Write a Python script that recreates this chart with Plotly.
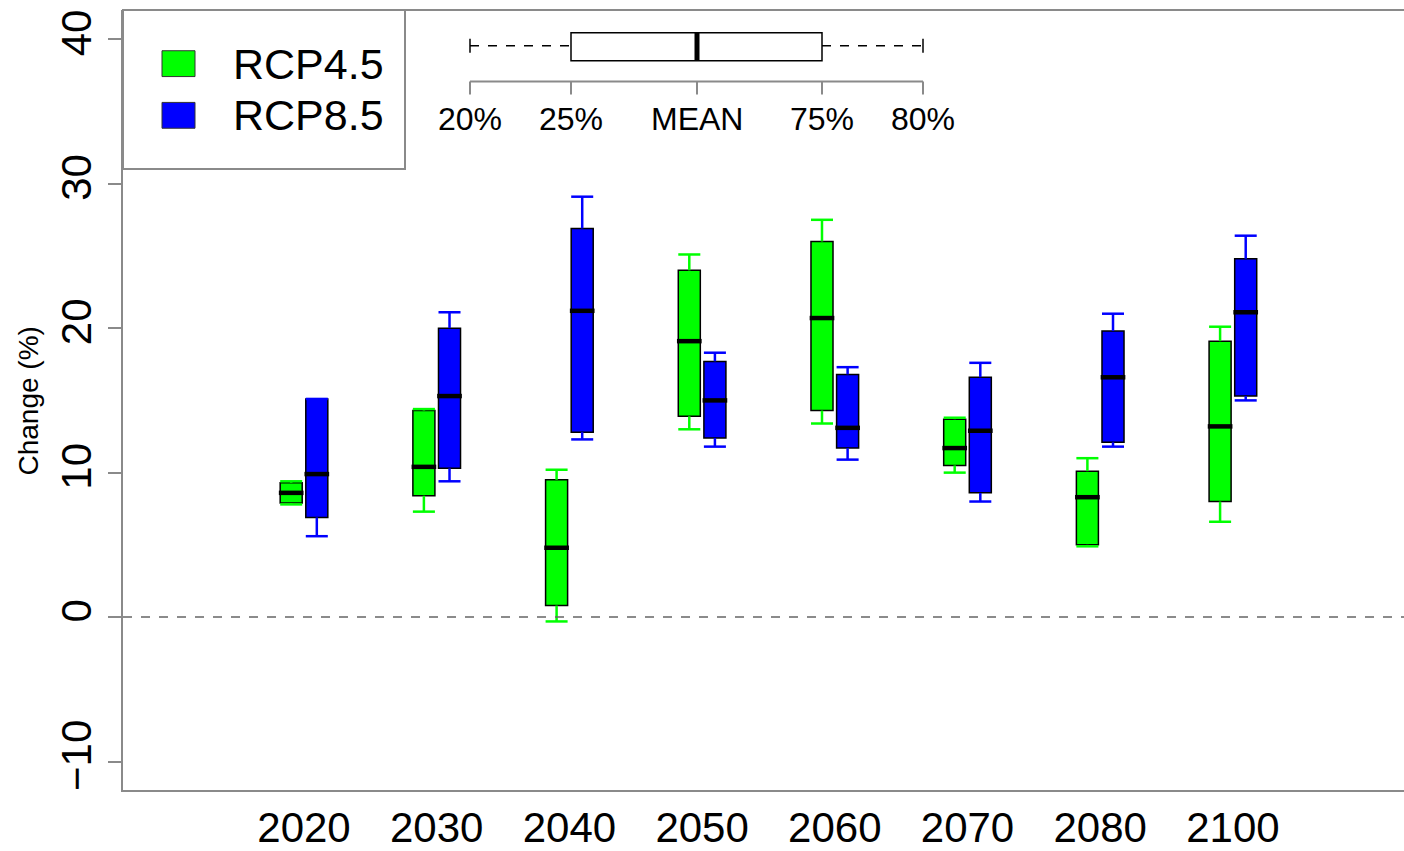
import numpy as np
import plotly.graph_objects as go

# ---- data ----
years = ["2020", "2030", "2040", "2050", "2060", "2070", "2080", "2100"]

rcp45_low = [7.8, 7.3, -0.3, 13.0, 13.4, 10.0, 4.9, 6.6]
rcp45_q1 = [7.9, 8.4, 0.8, 13.9, 14.3, 10.5, 5.0, 8.0]
rcp45_mid = [8.6, 10.4, 4.8, 19.1, 20.7, 11.7, 8.3, 13.2]
rcp45_q3 = [9.3, 14.3, 9.5, 24.0, 26.0, 13.7, 10.1, 19.1]
rcp45_high = [9.4, 14.4, 10.2, 25.1, 27.5, 13.8, 11.0, 20.1]

rcp85_low = [5.6, 9.4, 12.3, 11.8, 10.9, 8.0, 11.8, 15.0]
rcp85_q1 = [6.9, 10.3, 12.8, 12.4, 11.7, 8.6, 12.1, 15.3]
rcp85_mid = [9.9, 15.3, 21.2, 15.0, 13.1, 12.9, 16.6, 21.1]
rcp85_q3 = [15.1, 20.0, 26.9, 17.7, 16.8, 16.6, 19.8, 24.8]
rcp85_high = [15.1, 21.1, 29.1, 18.3, 17.3, 17.6, 21.0, 26.4]

series_names = ["RCP4.5", "RCP8.5"]
series_colors = ["#00FF00", "#0000FF"]
key_labels = ["20%", "25%", "MEAN", "75%", "80%"]

# ---- layout constants ----
W, H = 1404, 851
ML, MT, MB, MR = 123, 10, 56, 0
PW, PH = W - ML - MR, H - MT - MB
OFF = 0.0965
BW = 0.166
FONT = "Liberation Sans, Arial, Helvetica, sans-serif"
AXC = "#8a8a8a"

pos = np.arange(len(years), dtype=float)


def dx(px):
    return (px - ML) / PW


def dy(py):
    return (H - MB - py) / PH


fig = go.Figure()

groups = [
    (pos - OFF, rcp45_low, rcp45_q1, rcp45_mid, rcp45_q3, rcp45_high, series_colors[0], series_names[0]),
    (pos + OFF, rcp85_low, rcp85_q1, rcp85_mid, rcp85_q3, rcp85_high, series_colors[1], series_names[1]),
]

for xs, lo, q1, md, q3, hi, col, name in groups:
    lo, q1, md, q3, hi = map(np.asarray, (lo, q1, md, q3, hi))
    # whiskers
    wx, wy = [], []
    for i, x in enumerate(xs):
        wx += [x, x, None, x - BW / 2, x + BW / 2, None, x, x, None, x - BW / 2, x + BW / 2, None]
        wy += [q3[i], hi[i], None, hi[i], hi[i], None, q1[i], lo[i], None, lo[i], lo[i], None]
    fig.add_trace(go.Scatter(x=wx, y=wy, mode="lines", line=dict(color=col, width=2.5),
                             hoverinfo="skip", showlegend=False))
    # boxes
    fig.add_trace(go.Bar(x=xs, y=q3 - q1, base=q1, width=BW, name=name,
                         marker=dict(color=col, line=dict(color="black", width=1.5)),
                         showlegend=False))
    # medians
    mx, my = [], []
    for i, x in enumerate(xs):
        mx += [x - BW / 2 - 0.01, x + BW / 2 + 0.01, None]
        my += [md[i], md[i], None]
    fig.add_trace(go.Scatter(x=mx, y=my, mode="lines", line=dict(color="black", width=4.5),
                             hoverinfo="skip", showlegend=False))

x0 = (ML - 304) / 132.7
x1 = (W - 304) / 132.7

shapes = []
annotations = []
# zero line
shapes.append(dict(type="line", xref="x domain", yref="y", x0=0, x1=1, y0=0, y1=0,
                   line=dict(color="#666666", width=1.5, dash="dash")))
# top frame
shapes.append(dict(type="line", xref="x domain", yref="y domain", x0=0, x1=1, y0=1, y1=1,
                   line=dict(color=AXC, width=2)))

# legend box
shapes.append(dict(type="rect", xref="x domain", yref="y domain", x0=dx(123), x1=dx(405),
                   y0=dy(170), y1=dy(10), line=dict(color=AXC, width=2), fillcolor="white"))
for k, (nm, col) in enumerate(zip(series_names, series_colors)):
    top = 51 + k * 52
    shapes.append(dict(type="rect", xref="x domain", yref="y domain", x0=dx(162), x1=dx(195),
                       y0=dy(top + 26), y1=dy(top), line=dict(color="#333333", width=1),
                       fillcolor=col))
    annotations.append(dict(xref="x domain", yref="y domain", x=dx(231), y=dy(top + 13),
                            text=nm, showarrow=False, xanchor="left", yanchor="middle",
                            font=dict(family=FONT, size=43, color="black")))

# inset key
kx = [470, 571, 697, 822, 923]
ky = 46
shapes.append(dict(type="line", xref="x domain", yref="y domain", x0=dx(kx[0]), x1=dx(kx[1]),
                   y0=dy(ky), y1=dy(ky), line=dict(color="black", width=1.5, dash="dash")))
shapes.append(dict(type="line", xref="x domain", yref="y domain", x0=dx(kx[3]), x1=dx(kx[4]),
                   y0=dy(ky), y1=dy(ky), line=dict(color="black", width=1.5, dash="dash")))
for xx in (kx[0], kx[4]):
    shapes.append(dict(type="line", xref="x domain", yref="y domain", x0=dx(xx), x1=dx(xx),
                       y0=dy(39), y1=dy(53), line=dict(color="black", width=1.5)))
shapes.append(dict(type="rect", xref="x domain", yref="y domain", x0=dx(kx[1]), x1=dx(kx[3]),
                   y0=dy(61), y1=dy(33), line=dict(color="black", width=1.5), fillcolor="white"))
shapes.append(dict(type="line", xref="x domain", yref="y domain", x0=dx(kx[2]), x1=dx(kx[2]),
                   y0=dy(61), y1=dy(33), line=dict(color="black", width=5)))
shapes.append(dict(type="line", xref="x domain", yref="y domain", x0=dx(kx[0]), x1=dx(kx[4]),
                   y0=dy(82), y1=dy(82), line=dict(color=AXC, width=2)))
for xx, lab in zip(kx, key_labels):
    shapes.append(dict(type="line", xref="x domain", yref="y domain", x0=dx(xx), x1=dx(xx),
                       y0=dy(82), y1=dy(95), line=dict(color=AXC, width=2)))
    annotations.append(dict(xref="x domain", yref="y domain", x=dx(xx), y=dy(120), text=lab,
                            showarrow=False, xanchor="center", yanchor="middle",
                            font=dict(family=FONT, size=32, color="black")))

# y axis title
annotations.append(dict(xref="paper", yref="paper", x=dx(28), y=dy(404), text="Change (%)",
                        textangle=-90, showarrow=False, xanchor="center", yanchor="middle",
                        font=dict(family=FONT, size=28, color="black")))

fig.update_layout(
    width=W, height=H,
    margin=dict(l=ML, r=MR, t=MT, b=MB, pad=0),
    paper_bgcolor="white", plot_bgcolor="white",
    barmode="overlay", showlegend=False,
    shapes=shapes, annotations=annotations,
    font=dict(family=FONT, color="black"),
)
fig.update_xaxes(range=[x0, x1], tickmode="array", tickvals=pos, ticktext=years,
                 showgrid=False, zeroline=False, showline=True, linecolor=AXC, linewidth=2,
                 ticks="", tickfont=dict(family=FONT, size=42, color="black"))
fig.update_yaxes(range=[(621 - 795) / 14.54, (621 - 10) / 14.54], tickvals=[-10, 0, 10, 20, 30, 40],
                 showgrid=False, zeroline=False, showline=True, linecolor=AXC, linewidth=2,
                 ticks="outside", ticklen=13, tickwidth=2, tickcolor=AXC, tickangle=-90,
                 tickfont=dict(family=FONT, size=42, color="black"))

fig.write_html("out.html", config={"displayModeBar": False},
               post_script="document.body.style.margin='0';document.body.style.overflow='hidden';")
